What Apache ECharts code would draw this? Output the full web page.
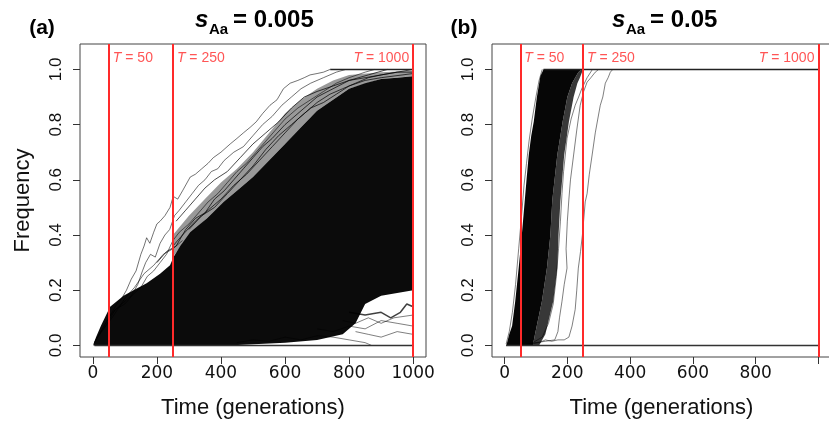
<!DOCTYPE html>
<html><head><meta charset="utf-8">
<script src="https://cdn.jsdelivr.net/npm/echarts@6/dist/echarts.min.js"></script>
<style>html,body{margin:0;padding:0;background:#fff}#c{width:829px;height:427px}</style>
</head><body><div id="c"></div>
<script>
// ---------- ticks / labels ----------
const xTicks = [0, 200, 400, 600, 800, 1000];
const xLabelsA = [0, 200, 400, 600, 800, 1000];
const xLabelsB = [0, 200, 400, 600, 800];
const yTicks = [0, 0.2, 0.4, 0.6, 0.8, 1.0];
const tLines = [50, 250, 1000];

// ---------- panel (a): s_Aa = 0.005 ----------
const aCoreUpper = [[2,0.005],[10,0.03],[25,0.07],[54,0.14],[75,0.16],[96,0.18],[127,0.2],[168,0.225],[210,0.26],[241,0.29],[252,0.32],[273,0.36],[304,0.41],[356,0.46],[408,0.52],[460,0.57],[500,0.61],[550,0.67],[600,0.73],[650,0.79],[700,0.85],[750,0.89],[800,0.93],[850,0.95],[900,0.965],[950,0.97],[1000,0.975]];
const aCoreLower = [[2,0],[420,0],[600,0.01],[700,0.02],[780,0.04],[820,0.08],[850,0.15],[900,0.18],[950,0.19],[1000,0.2]];
const aHaloUpper = [[250,0.4],[300,0.47],[350,0.53],[400,0.59],[450,0.64],[500,0.7],[550,0.77],[600,0.84],[650,0.89],[700,0.93],[750,0.96],[800,0.98],[900,0.99],[1000,0.995]];
const aHaloLower = [[250,0.32],[300,0.4],[356,0.46],[408,0.52],[460,0.57],[500,0.61],[550,0.67],[600,0.73],[650,0.79],[700,0.85],[750,0.89],[800,0.93],[900,0.965],[1000,0.975]];
const aLine1 = [[5,0.01],[20,0.04],[40,0.08],[60,0.12],[75,0.15],[90,0.17],[105,0.2],[120,0.24],[135,0.27],[150,0.33],[160,0.36],[168,0.39],[178,0.37],[190,0.41],[200,0.44],[210,0.45],[225,0.47],[241,0.5],[251,0.54],[265,0.53],[280,0.56],[304,0.61],[320,0.62],[340,0.64],[360,0.66],[376,0.68],[400,0.7],[429,0.73],[450,0.75],[470,0.77],[491,0.79],[510,0.81],[530,0.84],[553,0.87],[575,0.89],[595,0.93],[616,0.95],[640,0.96],[660,0.97],[678,0.98],[700,0.985],[720,0.99],[741,1.0]];
const aLine2 = [[5,0.01],[30,0.06],[55,0.11],[80,0.14],[100,0.16],[120,0.18],[140,0.22],[155,0.27],[165,0.3],[180,0.33],[195,0.32],[210,0.37],[225,0.4],[240,0.42],[255,0.47],[270,0.49],[290,0.52],[310,0.55],[330,0.58],[350,0.6],[370,0.63],[390,0.64],[410,0.67],[440,0.7],[470,0.72],[500,0.76],[530,0.8],[560,0.83],[590,0.87],[620,0.9],[650,0.93],[680,0.95],[720,0.97],[760,0.99],[790,1.0]];
const aLine3 = [[10,0.02],[40,0.07],[70,0.13],[100,0.15],[130,0.19],[150,0.21],[170,0.25],[190,0.27],[210,0.3],[230,0.33],[250,0.38],[270,0.41],[300,0.44],[330,0.48],[360,0.52],[390,0.55],[420,0.59],[450,0.63],[480,0.66],[510,0.7],[540,0.74],[570,0.78],[600,0.82],[640,0.86],[680,0.89],[720,0.92],[760,0.95],[800,0.97],[850,0.99],[880,1.0]];
const aLine4 = [[260,0.45],[290,0.49],[320,0.53],[350,0.57],[380,0.6],[420,0.63],[460,0.68],[500,0.73],[540,0.77],[580,0.81],[620,0.86],[660,0.9],[700,0.92],[750,0.94],[800,0.96],[850,0.97],[900,0.98],[950,0.99],[1000,1.0]];
const aLine5 = [[300,0.42],[340,0.47],[380,0.5],[420,0.55],[460,0.6],[500,0.65],[540,0.71],[580,0.76],[620,0.8],[660,0.84],[700,0.88],[740,0.91],[780,0.93],[820,0.95],[860,0.97],[900,0.98],[950,0.99],[1000,0.99]];
const aLine6 = [[250,0.36],[280,0.4],[320,0.45],[360,0.49],[400,0.53],[440,0.58],[480,0.62],[520,0.67],[560,0.72],[600,0.77],[640,0.82],[680,0.86],[720,0.88],[760,0.91],[800,0.94],[850,0.96],[900,0.97],[1000,0.985]];
const aLine7 = [[200,0.3],[230,0.34],[260,0.36],[290,0.42],[320,0.46],[350,0.48],[380,0.53],[410,0.56],[440,0.6],[470,0.64],[500,0.68],[530,0.72],[560,0.75],[600,0.8],[650,0.85],[700,0.9],[750,0.93],[800,0.96],[860,0.98],[920,1.0]];
const aLine8 = [[20,0.04],[60,0.1],[100,0.17],[130,0.21],[160,0.26],[190,0.29],[220,0.33],[250,0.35],[280,0.38]];
const aLow1 = [[450,0.01],[500,0.02],[550,0.015],[600,0.03],[650,0.02],[700,0.035],[750,0.03],[800,0.02],[850,0.01],[870,0]];
const aLow2 = [[700,0.06],[750,0.05],[800,0.07],[850,0.06],[900,0.09],[950,0.08],[1000,0.07]];
const aLow3 = [[800,0.12],[850,0.11],[900,0.12],[930,0.1],[960,0.12],[980,0.15],[1000,0.14]];
const aLow4 = [[820,0.05],[860,0.04],[900,0.03],[950,0.05],[1000,0.04]];
const aLow5 = [[780,0.09],[820,0.08],[860,0.1],[900,0.08],[940,0.1],[1000,0.11]];
const aFixed = [[741,1],[1000,1]];
const aLost = [[5,0],[1000,0]];

// ---------- panel (b): s_Aa = 0.05 ----------
const bCoreLeft = [[5,0],[8,0.01],[15,0.04],[24,0.07],[34,0.16],[45,0.28],[55,0.4],[64,0.52],[70,0.6],[77,0.69],[85,0.76],[93,0.81],[103,0.9],[114,0.975],[124,1.0]];
const bCoreRight = [[245,1.0],[235,0.99],[215,0.95],[200,0.9],[185,0.81],[168,0.69],[152,0.525],[146,0.4],[135,0.28],[119,0.16],[97,0.04],[90,0.0]];
const bHaloRight = [[250,1.0],[240,0.97],[232,0.95],[220,0.9],[205,0.81],[190,0.69],[178,0.525],[172,0.4],[168,0.28],[155,0.16],[130,0.04],[110,0.0]];
const bLine1 = [[80,0.005],[110,0.01],[130,0.02],[150,0.015],[170,0.02],[190,0.02],[205,0.03],[215,0.07],[225,0.13],[230,0.2],[235,0.28],[242,0.34],[248,0.4],[257,0.52],[263,0.55],[270,0.62],[279,0.69],[289,0.77],[297,0.82],[305,0.87],[313,0.9],[321,0.95],[330,0.97],[337,0.99],[345,1.0]];
const bLine2 = [[70,0.005],[100,0.01],[130,0.015],[160,0.02],[170,0.05],[175,0.1],[183,0.16],[190,0.22],[199,0.28],[196,0.35],[200,0.45],[205,0.53],[210,0.6],[220,0.69],[230,0.78],[241,0.87],[252,0.92],[263,0.954],[275,0.97],[289,0.99],[300,1.0]];
const bLine3 = [[90,0.01],[120,0.03],[140,0.08],[155,0.15],[165,0.25],[172,0.35],[178,0.45],[183,0.55],[188,0.63],[199,0.75],[212,0.82],[225,0.87],[236,0.9],[246,0.93],[263,0.97],[280,1.0]];
const bLine4 = [[5,0.005],[15,0.05],[25,0.12],[35,0.22],[45,0.35],[55,0.48],[62,0.58],[70,0.66],[78,0.74],[88,0.82],[100,0.9],[110,0.96],[120,1.0]];
const bFixed = [[124,1],[1000,1]];
const bLost = [[5,0],[1000,0]];

// ---------- helpers ----------
const rev = a => a.slice().reverse();
const polyA = [
  aCoreUpper.concat(rev(aCoreLower)),
  aHaloUpper.concat(rev(aHaloLower))
];
const fillA = ['#0b0b0b', 'rgba(0,0,0,0.4)'];
const polyB = [
  bCoreLeft.concat(bCoreRight),
  rev(bCoreRight).concat(bHaloRight)
];
const fillB = ['#060606', 'rgba(0,0,0,0.78)'];

function polySeries(polys, fills, gi) {
  return {
    type: 'custom', xAxisIndex: gi, yAxisIndex: gi, silent: true, z: 1,
    data: polys.map(p => [p[0][0], p[0][1]]),
    renderItem: (params, api) => {
      const p = polys[params.dataIndex];
      return { type: 'polygon', shape: { points: p.map(pt => api.coord(pt)) },
               style: { fill: fills[params.dataIndex], stroke: null } };
    }
  };
}
function lineSeries(data, gi, color, width, z) {
  return { type: 'line', xAxisIndex: gi, yAxisIndex: gi, data: data, showSymbol: false,
           silent: true, z: z || 2, lineStyle: { color: color, width: width || 1 } };
}
const RED = '#ff2a2a';
const LABEL_Y = 1.04;
function redSeries(gi) {
  return {
    type: 'scatter', xAxisIndex: gi, yAxisIndex: gi, symbolSize: 0, silent: true, z: 6,
    data: tLines.map((t, i) => ({
      value: [t, LABEL_Y],
      label: { show: true, position: i === tLines.length - 1 ? 'left' : 'right', distance: 4,
               formatter: '{i|T}{n| = ' + t + '}',
               rich: { i: { fontStyle: 'italic', fontFamily: 'Liberation Sans', fontSize: 14, color: RED },
                       n: { fontFamily: 'Liberation Sans', fontSize: 14, color: RED } } }
    })),
    markLine: { silent: true, symbol: ['none', 'none'], animation: false, z: 5,
                label: { show: false },
                lineStyle: { color: RED, width: 2, type: 'solid' },
                data: tLines.map(t => ({ xAxis: t })) }
  };
}
function xAxisCfg(gi, labels) {
  return { gridIndex: gi, type: 'value', min: -40, max: 1040,
    axisLine: { show: false, onZero: false }, splitLine: { show: false },
    axisTick: { show: true, customValues: xTicks, length: 7, lineStyle: { color: '#333' } },
    axisLabel: { customValues: labels, formatter: v => String(v), fontFamily: 'DejaVu Sans', fontSize: 17, color: '#111', margin: 8 },
    name: 'Time (generations)', nameLocation: 'middle', nameGap: 40,
    nameTextStyle: { fontFamily: 'Liberation Sans', fontSize: 22, color: '#111' } };
}
function yAxisCfg(gi, withName) {
  const c = { gridIndex: gi, type: 'value', min: -0.042, max: 1.092,
    axisLine: { show: false, onZero: false }, splitLine: { show: false },
    axisTick: { show: true, customValues: yTicks, length: 7, lineStyle: { color: '#333' } },
    axisLabel: { customValues: yTicks, rotate: 90, formatter: v => v.toFixed(1),
                 fontFamily: 'Liberation Sans', fontSize: 17, color: '#111', margin: 15 } };
  if (withName) {
    c.name = 'Frequency'; c.nameLocation = 'middle'; c.nameGap = 46;
    c.nameTextStyle = { fontFamily: 'Liberation Sans', fontSize: 22, color: '#111' };
  }
  return c;
}
function txt(text, x, y, font, align) {
  return { type: 'text', silent: true, z: 10,
           style: { text: text, x: x, y: y, font: font, fill: '#000', align: align || 'left', verticalAlign: 'middle' } };
}
const LINE_C = 'rgba(0,0,0,0.55)';

const chart = echarts.init(document.getElementById('c'), null, { renderer: 'canvas' });
chart.setOption({
  animation: false,
  backgroundColor: '#fff',
  grid: [
    { left: 80, top: 44, width: 346, height: 313, show: true, borderColor: '#444', borderWidth: 1, outerBoundsMode: 'none' },
    { left: 492, top: 44, width: 339, height: 313, show: true, borderColor: '#444', borderWidth: 1, outerBoundsMode: 'none' }
  ],
  xAxis: [xAxisCfg(0, xLabelsA), xAxisCfg(1, xLabelsB)],
  yAxis: [yAxisCfg(0, true), yAxisCfg(1, false)],
  graphic: [
    txt('(a)', 42, 28, 'bold 21px "Liberation Sans"', 'center'),
    txt('(b)', 464, 28, 'bold 21px "Liberation Sans"', 'center'),
    txt('s', 195, 20, 'italic bold 24px "Liberation Sans"'),
    txt('Aa', 209, 30, 'bold 15px "Liberation Sans"'),
    txt('= 0.005', 233, 20, 'bold 24px "Liberation Sans"'),
    txt('s', 612, 20, 'italic bold 24px "Liberation Sans"'),
    txt('Aa', 626, 30, 'bold 15px "Liberation Sans"'),
    txt('= 0.05', 650, 20, 'bold 24px "Liberation Sans"')
  ],
  series: [
    polySeries(polyA, fillA, 0),
    lineSeries(aLine1, 0, LINE_C),
    lineSeries(aLine2, 0, LINE_C),
    lineSeries(aLine3, 0, LINE_C),
    lineSeries(aLine4, 0, 'rgba(0,0,0,0.7)'),
    lineSeries(aLine5, 0, 'rgba(0,0,0,0.7)'),
    lineSeries(aLine6, 0, 'rgba(0,0,0,0.7)'),
    lineSeries(aLine7, 0, 'rgba(0,0,0,0.7)'),
    lineSeries(aLine8, 0, LINE_C),
    lineSeries(aLow1, 0, 'rgba(0,0,0,0.5)'),
    lineSeries(aLow2, 0, 'rgba(0,0,0,0.5)'),
    lineSeries(aLow3, 0, 'rgba(0,0,0,0.75)', 1.5),
    lineSeries(aLow4, 0, 'rgba(0,0,0,0.5)'),
    lineSeries(aLow5, 0, 'rgba(0,0,0,0.5)'),
    lineSeries(aFixed, 0, '#222', 1.5, 3),
    lineSeries(aLost, 0, '#333', 1.5, 3),
    redSeries(0),
    polySeries(polyB, fillB, 1),
    lineSeries(bLine1, 1, 'rgba(0,0,0,0.5)'),
    lineSeries(bLine2, 1, 'rgba(0,0,0,0.5)'),
    lineSeries(bLine3, 1, 'rgba(0,0,0,0.5)'),
    lineSeries(bLine4, 1, 'rgba(0,0,0,0.5)'),
    lineSeries(bFixed, 1, '#222', 1.5, 3),
    lineSeries(bLost, 1, '#333', 1.5, 3),
    redSeries(1)
  ]
});
</script></body></html>
